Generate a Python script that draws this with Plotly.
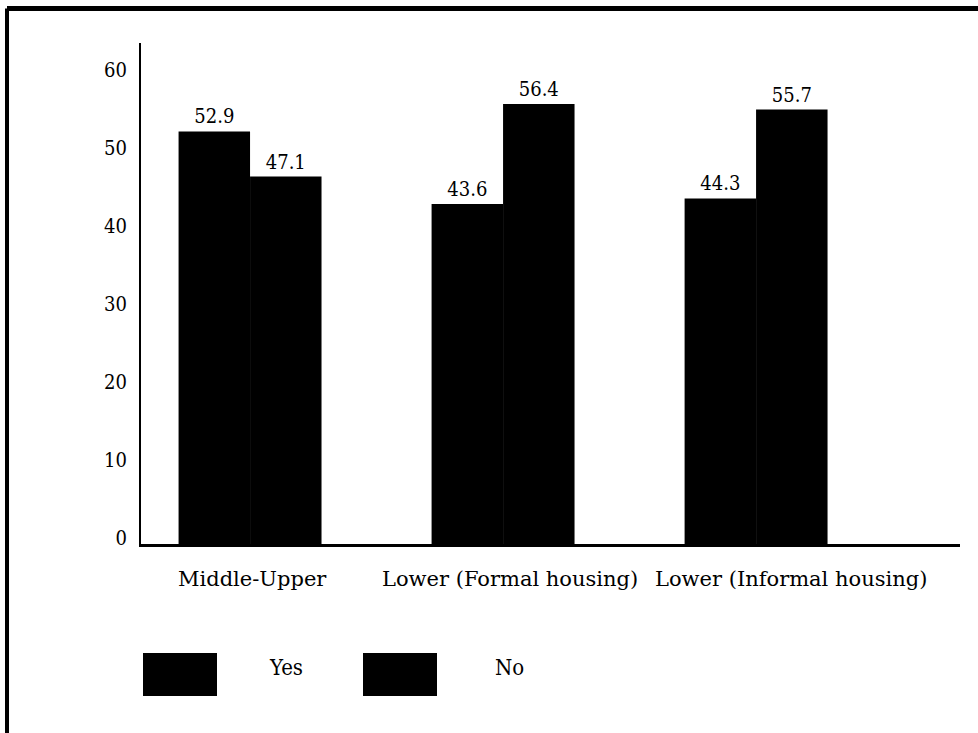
import plotly.graph_objects as go

# Survey responses by socio-economic group (percent)
categories = ["Middle-Upper", "Lower (Formal housing)", "Lower (Informal housing)"]
series_names = ["Yes", "No"]
yes_values = [52.9, 43.6, 44.3]
no_values = [47.1, 56.4, 55.7]
y_ticks = [0, 10, 20, 30, 40, 50, 60]

SERIF = "DejaVu Serif"
SERIF_NARROW = "DejaVu Serif Condensed"
W, H = 978, 733
L, R, T, B = 141, 18, 43, 189
PW, PH = W - L - R, H - T - B


def px(x):
    return (x - L) / PW


def py(y):
    return (H - B - y) / PH


fig = go.Figure()
for name, vals in zip(series_names, [yes_values, no_values]):
    fig.add_trace(go.Bar(
        name=name, x=categories, y=vals,
        marker=dict(color="black", line=dict(width=0)),
        text=[f"{v:.1f}" for v in vals], textposition="outside",
        textfont=dict(family=SERIF_NARROW, size=20, color="black"),
        cliponaxis=False, showlegend=False,
    ))

# category labels under the axis
label_shift = [2, 7, 35]
annotations = []
for cat, dx in zip(categories, label_shift):
    annotations.append(dict(
        x=cat, y=0, xref="x", yref="y", text=cat, showarrow=False,
        xanchor="center", yanchor="middle", xshift=dx, yshift=-35,
        font=dict(family=SERIF, size=21, color="black"),
    ))

# legend: large swatches with labels
shapes = []
swatch_x = [(143, 217), (363, 437)]
label_x = [267, 493]
for (x0, x1), lx, name in zip(swatch_x, label_x, series_names):
    shapes.append(dict(type="rect", xref="paper", yref="paper",
                       x0=px(x0), x1=px(x1), y0=py(696), y1=py(653),
                       fillcolor="black", line=dict(width=0)))
    annotations.append(dict(
        x=px(lx), y=py(668), xref="paper", yref="paper", text=name,
        showarrow=False, xanchor="left", yanchor="middle",
        font=dict(family=SERIF_NARROW, size=22, color="black"),
    ))

# frame around the chart
shapes.append(dict(type="line", xref="paper", yref="paper",
                   x0=px(7), x1=px(1000), y0=py(8.5), y1=py(8.5),
                   line=dict(color="black", width=5)))
shapes.append(dict(type="line", xref="paper", yref="paper",
                   x0=px(7), x1=px(7), y0=py(8.5), y1=py(760),
                   line=dict(color="black", width=4)))

fig.update_layout(
    width=W, height=H,
    margin=dict(l=L, r=R, t=T, b=B, pad=0),
    paper_bgcolor="white", plot_bgcolor="white",
    barmode="group", bargap=0.435, bargroupgap=0,
    font=dict(family=SERIF, size=20, color="black"),
    shapes=shapes, annotations=annotations,
    xaxis=dict(
        type="category", range=[-0.431, 2.806], showticklabels=False,
        showline=True, linecolor="black", linewidth=3, showgrid=False,
        zeroline=False, ticks="",
    ),
    yaxis=dict(
        range=[0, PH / 7.8], tickvals=y_ticks, ticks="",
        showline=True, linecolor="black", linewidth=2, showgrid=False,
        zeroline=False, ticklabelstandoff=8, ticklabelshift=-6,
        tickfont=dict(family=SERIF_NARROW, size=20, color="black"),
    ),
)

fig.write_html("out.html")
